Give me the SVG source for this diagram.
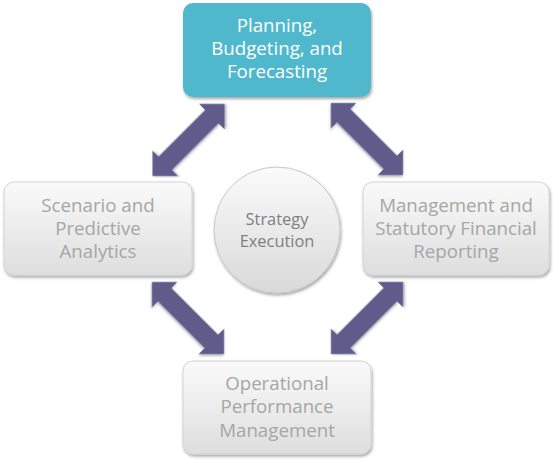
<svg xmlns="http://www.w3.org/2000/svg" width="553" height="460" viewBox="0 0 553 460">
<defs>
<style>
.t{font-family:"Open Sans","Liberation Sans",sans-serif;font-size:18.7px;text-anchor:middle}
.tw{fill:#ffffff}
.tg{fill:#a6a6a6}
.tc{fill:#7f7f7f;font-size:16.4px}
.gbox{fill:url(#gg);stroke:#d4d4d4;stroke-width:1;filter:url(#sh)}
.arr{fill:#5f5b8b;filter:url(#sh2)}
</style>
<linearGradient id="gg" x1="0" y1="0" x2="0" y2="1">
<stop offset="0" stop-color="#fafafa"/>
<stop offset="1" stop-color="#dedede"/>
</linearGradient>
<linearGradient id="cg" x1="0" y1="0" x2="0" y2="1">
<stop offset="0" stop-color="#fbfbfb"/>
<stop offset="1" stop-color="#d9d9d9"/>
</linearGradient>
<filter id="sh" x="-20%" y="-20%" width="140%" height="150%">
<feDropShadow dx="1" dy="2" stdDeviation="1.5" flood-color="#000" flood-opacity="0.35"/>
</filter>
<filter id="sh2" x="-20%" y="-20%" width="140%" height="140%">
<feDropShadow dx="1" dy="1.5" stdDeviation="1" flood-color="#000" flood-opacity="0.3"/>
</filter>
<path id="da" d="M-51,0 L-33,-18 L-33,-9.5 L33,-9.5 L33,-18 L51,0 L33,18 L33,9.5 L-33,9.5 L-33,18 Z"/>
</defs>
<rect width="553" height="460" fill="#ffffff"/>
<g id="connectors">
<use href="#da" class="arr" transform="translate(188.5,140) rotate(-45)"/>
<use href="#da" class="arr" transform="translate(367,139) rotate(45)"/>
<use href="#da" class="arr" transform="translate(188,318) rotate(45)"/>
<use href="#da" class="arr" transform="translate(367,318) rotate(-45)"/>
</g>
<g id="node-planning">
<rect x="183" y="3" width="188" height="94" rx="10" fill="#4fb8cc" filter="url(#sh)"/>
<text class="t tw" x="277" y="32">Planning,</text>
<text class="t tw" x="277" y="55">Budgeting, and</text>
<text class="t tw" x="277" y="78">Forecasting</text>
</g>
<g id="node-scenario">
<rect class="gbox" x="4" y="182" width="188" height="93" rx="10"/>
<text class="t tg" x="98" y="212">Scenario and</text>
<text class="t tg" x="98" y="235">Predictive</text>
<text class="t tg" x="98" y="258">Analytics</text>
</g>
<g id="node-reporting">
<rect class="gbox" x="363" y="182" width="186" height="93" rx="10"/>
<text class="t tg" x="456" y="212">Management and</text>
<text class="t tg" x="456" y="235">Statutory Financial</text>
<text class="t tg" x="456" y="258">Reporting</text>
</g>
<g id="node-operational">
<rect class="gbox" x="183" y="361" width="188" height="93" rx="10"/>
<text class="t tg" x="277" y="390">Operational</text>
<text class="t tg" x="277" y="413">Performance</text>
<text class="t tg" x="277" y="437">Management</text>
</g>
<g id="node-strategy">
<circle cx="277" cy="230" r="63" fill="url(#cg)" stroke="#c8c8c8" stroke-width="1" filter="url(#sh)"/>
<text class="t tc" x="277" y="225">Strategy</text>
<text class="t tc" x="277" y="247">Execution</text>
</g>
</svg>
